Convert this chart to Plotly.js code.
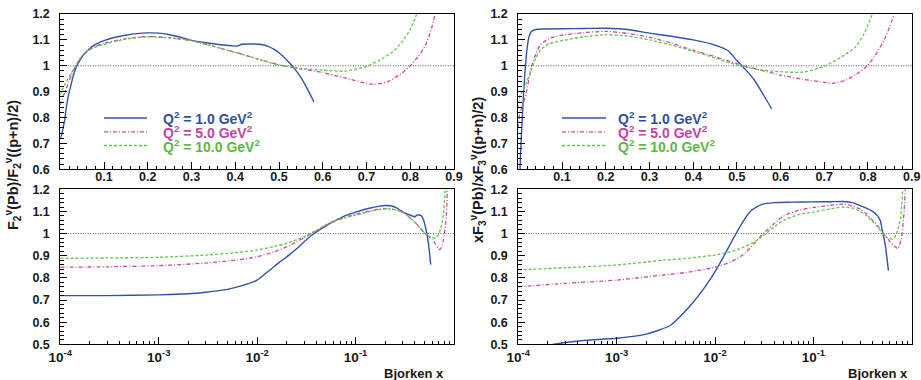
<!DOCTYPE html>
<html>
<head>
<meta charset="utf-8">
<script src="https://cdn.plot.ly/plotly-3.0.1.min.js"></script>
<style>html,body{margin:0;padding:0;background:#fff;}#chart{width:921px;height:380px;}</style>
</head>
<body>
<div id="chart"></div>
<script>
// ---------- data ----------
const seriesNames = ["Q<sup>2</sup> = 1.0 GeV<sup>2</sup>", "Q<sup>2</sup> = 5.0 GeV<sup>2</sup>", "Q<sup>2</sup> = 10.0 GeV<sup>2</sup>"];

// F2 ratio
const f2_q1_x = [1e-4, 3e-4, 1e-3, 2e-3, 3e-3, 5e-3, 7e-3, 0.01, 0.013, 0.017, 0.02, 0.025, 0.03, 0.037, 0.045, 0.053, 0.065, 0.075, 0.09, 0.1, 0.125, 0.15, 0.175, 0.2, 0.225, 0.25, 0.275, 0.3, 0.35, 0.4, 0.405, 0.415, 0.44, 0.46, 0.475, 0.49, 0.5, 0.52, 0.535, 0.55, 0.565, 0.58];
const f2_q1_y = [0.72, 0.72, 0.723, 0.728, 0.735, 0.748, 0.765, 0.79, 0.83, 0.872, 0.895, 0.93, 0.963, 0.997, 1.022, 1.042, 1.063, 1.077, 1.09, 1.097, 1.11, 1.118, 1.124, 1.127, 1.126, 1.12, 1.11, 1.098, 1.085, 1.076, 1.076, 1.083, 1.084, 1.082, 1.075, 1.062, 1.05, 1.018, 0.99, 0.955, 0.91, 0.86];

const f2_q5_x = [1e-4, 3e-4, 1e-3, 3e-3, 6e-3, 0.01, 0.015, 0.02, 0.025, 0.03, 0.04, 0.05, 0.06, 0.08, 0.1, 0.15, 0.2, 0.25, 0.3, 0.35, 0.4, 0.45, 0.5, 0.55, 0.6, 0.65, 0.7, 0.72, 0.75, 0.78, 0.8, 0.82, 0.835, 0.848, 0.858];
const f2_q5_y = [0.848, 0.85, 0.855, 0.867, 0.88, 0.895, 0.918, 0.94, 0.962, 0.982, 1.012, 1.038, 1.055, 1.075, 1.087, 1.105, 1.113, 1.108, 1.097, 1.075, 1.052, 1.027, 1.003, 0.988, 0.974, 0.953, 0.932, 0.928, 0.94, 0.97, 1.0, 1.04, 1.08, 1.14, 1.21];

const f2_q10_x = [1e-4, 3e-4, 1e-3, 3e-3, 6e-3, 0.01, 0.015, 0.02, 0.025, 0.03, 0.04, 0.05, 0.06, 0.08, 0.1, 0.15, 0.2, 0.25, 0.3, 0.35, 0.4, 0.45, 0.5, 0.55, 0.6, 0.65, 0.7, 0.73, 0.76, 0.78, 0.8, 0.817];
const f2_q10_y = [0.888, 0.89, 0.893, 0.903, 0.914, 0.926, 0.942, 0.956, 0.972, 0.986, 1.015, 1.04, 1.056, 1.072, 1.083, 1.103, 1.112, 1.108, 1.097, 1.075, 1.052, 1.027, 1.003, 0.99, 0.983, 0.979, 0.998, 1.022, 1.054, 1.09, 1.14, 1.21];

// xF3 ratio
const f3_q1_x = [2e-4, 3e-4, 5e-4, 1e-3, 2e-3, 3.5e-3, 5e-3, 6e-3, 7.5e-3, 9e-3, 0.0117, 0.015, 0.019, 0.0235, 0.03, 0.04, 0.06, 0.1, 0.15, 0.2, 0.25, 0.3, 0.35, 0.4, 0.45, 0.48, 0.5, 0.52, 0.54, 0.56, 0.58];
const f3_q1_y = [0.495, 0.508, 0.518, 0.527, 0.546, 0.585, 0.65, 0.69, 0.745, 0.795, 0.88, 0.97, 1.05, 1.105, 1.132, 1.14, 1.142, 1.143, 1.144, 1.145, 1.14, 1.126, 1.114, 1.1, 1.08, 1.058, 1.02, 0.985, 0.945, 0.89, 0.833];

const f3_q5_x = [1e-4, 3e-4, 1e-3, 3e-3, 5e-3, 0.01, 0.015, 0.02, 0.025, 0.03, 0.04, 0.05, 0.07, 0.1, 0.15, 0.2, 0.25, 0.3, 0.35, 0.4, 0.45, 0.5, 0.55, 0.6, 0.65, 0.7, 0.72, 0.75, 0.78, 0.8, 0.82, 0.84, 0.86];
const f3_q5_y = [0.76, 0.775, 0.79, 0.813, 0.824, 0.848, 0.875, 0.91, 0.955, 0.994, 1.045, 1.08, 1.105, 1.118, 1.128, 1.133, 1.125, 1.11, 1.088, 1.06, 1.035, 1.008, 0.985, 0.964, 0.948, 0.936, 0.932, 0.945, 0.975, 1.003, 1.05, 1.11, 1.2];

const f3_q10_x = [1e-4, 3e-4, 1e-3, 3e-3, 5e-3, 0.01, 0.015, 0.02, 0.025, 0.03, 0.04, 0.05, 0.07, 0.1, 0.15, 0.2, 0.25, 0.3, 0.35, 0.4, 0.45, 0.5, 0.55, 0.6, 0.65, 0.7, 0.74, 0.77, 0.79, 0.81];
const f3_q10_y = [0.836, 0.846, 0.858, 0.88, 0.888, 0.903, 0.92, 0.941, 0.962, 0.986, 1.03, 1.06, 1.085, 1.097, 1.112, 1.12, 1.115, 1.1, 1.08, 1.056, 1.03, 1.003, 0.985, 0.977, 0.975, 0.998, 1.035, 1.07, 1.12, 1.2];

// tick labels
const linTickVals = [0.1, 0.2, 0.3, 0.4, 0.5, 0.6, 0.7, 0.8, 0.9];
const linTickText = ["0.1", "0.2", "0.3", "0.4", "0.5", "0.6", "0.7", "0.8", "0.9"];
const logTickVals = [1e-4, 1e-3, 1e-2, 1e-1];
const logTickText = ["10<sup>-4</sup>", "10<sup>-3</sup>", "10<sup>-2</sup>", "10<sup>-1</sup>"];
const yTitleF2 = "F<sub>2</sub><sup>ν</sup>(Pb)/F<sub>2</sub><sup>ν</sup>((p+n)/2)";
const yTitleF3 = "xF<sub>3</sub><sup>ν</sup>(Pb)/xF<sub>3</sub><sup>ν</sup>((p+n)/2)";
const xTitle = "Bjorken x";

// ---------- styles ----------
const colors = ["#3353a8", "#c94ca3", "#63c44a"];
const dashes = ["solid", "4px,2px,1px,2px", "3px,2px"];
const txtColors = ["#30509f", "#c0479b", "#5cb845"];
const FONT = "Liberation Sans, Arial, Helvetica, sans-serif";

function tr(x, y, i, xa, ya) {
  return {x: x, y: y, xaxis: xa, yaxis: ya, type: "scatter", mode: "lines",
    line: {color: colors[i], width: i === 0 ? 1.4 : 1.3, dash: dashes[i], shape: "spline", smoothing: 0.6},
    showlegend: false, hoverinfo: "skip"};
}

const data = [
  tr(f2_q1_x, f2_q1_y, 0, "x", "y"), tr(f2_q5_x, f2_q5_y, 1, "x", "y"), tr(f2_q10_x, f2_q10_y, 2, "x", "y"),
  tr(f2_q1_x, f2_q1_y, 0, "x2", "y2"), tr(f2_q5_x, f2_q5_y, 1, "x2", "y2"), tr(f2_q10_x, f2_q10_y, 2, "x2", "y2"),
  tr(f3_q1_x, f3_q1_y, 0, "x3", "y3"), tr(f3_q5_x, f3_q5_y, 1, "x3", "y3"), tr(f3_q10_x, f3_q10_y, 2, "x3", "y3"),
  tr(f3_q1_x, f3_q1_y, 0, "x4", "y4"), tr(f3_q5_x, f3_q5_y, 1, "x4", "y4"), tr(f3_q10_x, f3_q10_y, 2, "x4", "y4")
];

const W = 921, H = 380;
const colL = [60.3 / W, 454 / W], colR = [518.3 / W, 911.7 / W];
const rowT = [1 - 169.3 / H, 1 - 14 / H], rowB = [1 - 344.3 / H, 1 - 189.3 / H];

const tickFont = {family: FONT, size: 12.5, color: "#1a1a1a", weight: "bold"};
const common = {showline: true, mirror: true, linecolor: "#000", linewidth: 1, showgrid: false, zeroline: false,
  ticks: "inside", ticklen: 7, tickwidth: 1, tickcolor: "#000", tickfont: tickFont, fixedrange: true};

const logMinor = [];
for (let e = -4; e < 0; e++) for (let m = 2; m <= 9; m++) logMinor.push(m * Math.pow(10, e));

function linX(anchor, dom) {
  return Object.assign({}, common, {domain: dom, anchor: anchor, range: [0, 0.9], tickmode: "array",
    tickvals: linTickVals, ticktext: linTickText, ticklabelstandoff: -4,
    minor: {ticks: "inside", ticklen: 3.5, dtick: 0.02, tick0: 0, tickcolor: "#000"}});
}
function logX(anchor, dom) {
  return Object.assign({}, common, {domain: dom, anchor: anchor, type: "log", range: [-4, 0], tickmode: "array",
    tickvals: logTickVals, ticktext: logTickText, ticklabelstandoff: 0,
    tickfont: Object.assign({}, tickFont, {size: 13.5}),
    minor: {ticks: "inside", ticklen: 3.5, tickmode: "array", tickvals: logMinor, tickcolor: "#000"}});
}
function linY(anchor, dom, r) {
  return Object.assign({}, common, {domain: dom, anchor: anchor, range: r, dtick: 0.1, tick0: 0,
    ticklabelstandoff: 7, minor: {ticks: "inside", ticklen: 3.5, dtick: 0.02, tick0: 0, tickcolor: "#000"}});
}

const shapes = [];
[["x", "y"], ["x2", "y2"], ["x3", "y3"], ["x4", "y4"]].forEach(function (p) {
  shapes.push({type: "line", xref: p[0] + " domain", yref: p[1], x0: 0, x1: 1, y0: 1, y1: 1,
    line: {color: "#555", width: 1, dash: "1px,1.5px"}, layer: "below"});
});

const annotations = [];
const legendRows = [118, 131.8, 145.5];
[[104, 147, 162], [562, 606, 617]].forEach(function (L) {
  for (let i = 0; i < 3; i++) {
    const yy = 1 - legendRows[i] / H;
    shapes.push({type: "line", xref: "paper", yref: "paper", x0: L[0] / W, x1: L[1] / W, y0: yy, y1: yy,
      line: {color: colors[i], width: 1.3, dash: dashes[i]}});
    annotations.push({xref: "paper", yref: "paper", x: L[2] / W, y: yy, xanchor: "left", yanchor: "middle",
      text: seriesNames[i], showarrow: false, borderpad: 0,
      font: {family: FONT, size: 14, color: txtColors[i], weight: "bold"}});
  }
});
annotations.push({xref: "paper", yref: "paper", x: 13 / W, y: 1 - 165 / H, text: yTitleF2, textangle: -90,
  showarrow: false, xanchor: "center", yanchor: "middle", font: {family: FONT, size: 14.5, color: "#1a1a1a", weight: "bold"}});
annotations.push({xref: "paper", yref: "paper", x: 478 / W, y: 1 - 170 / H, text: yTitleF3, textangle: -90,
  showarrow: false, xanchor: "center", yanchor: "middle", font: {family: FONT, size: 14.5, color: "#1a1a1a", weight: "bold"}});
annotations.push({xref: "paper", yref: "paper", x: 446 / W, y: 1 - 373 / H, text: xTitle, showarrow: false,
  xanchor: "right", yanchor: "middle", font: {family: FONT, size: 13, color: "#1a1a1a", weight: "bold"}});
annotations.push({xref: "paper", yref: "paper", x: 910 / W, y: 1 - 373 / H, text: xTitle, showarrow: false,
  xanchor: "right", yanchor: "middle", font: {family: FONT, size: 13, color: "#1a1a1a", weight: "bold"}});

const layout = {
  width: W, height: H, margin: {l: 0, r: 0, t: 0, b: 0}, paper_bgcolor: "#fff", plot_bgcolor: "#fff",
  showlegend: false, font: {family: FONT},
  xaxis: linX("y", colL), yaxis: linY("x", rowT, [0.6, 1.2]),
  xaxis2: logX("y2", colL), yaxis2: linY("x2", rowB, [0.5, 1.2]),
  xaxis3: linX("y3", colR), yaxis3: linY("x3", rowT, [0.6, 1.2]),
  xaxis4: logX("y4", colR), yaxis4: linY("x4", rowB, [0.5, 1.2]),
  shapes: shapes, annotations: annotations
};

Plotly.newPlot("chart", data, layout, {displayModeBar: false, staticPlot: true});
</script>
</body>
</html>
